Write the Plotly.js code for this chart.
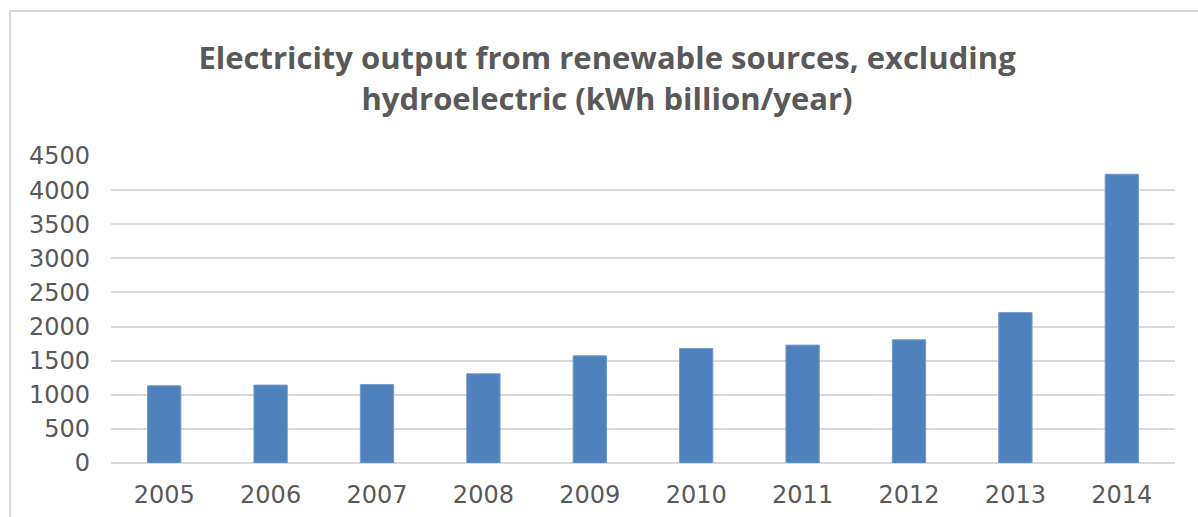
<!DOCTYPE html>
<html>
<head>
<meta charset="utf-8">
<script src="https://cdn.plot.ly/plotly-3.0.1.min.js"></script>
<style>
  html, body { margin: 0; padding: 0; background: #ffffff; overflow: hidden; }
  #chart { position: absolute; left: 0; top: 0; width: 1198px; height: 517px; }
  #frame {
    position: absolute; left: 9px; top: 10px; width: 1300px; height: 600px;
    border-left: 2px solid #d9d9d9; border-top: 2px solid #d9d9d9;
    pointer-events: none;
  }
</style>
</head>
<body>
<div id="chart"></div>
<div id="frame"></div>
<script>
// Annual electricity output from renewables other than hydro, kWh billion
const years = ['2005', '2006', '2007', '2008', '2009', '2010', '2011', '2012', '2013', '2014'];
const output = [1132, 1142, 1151, 1308, 1571, 1678, 1728, 1806, 2205, 4232];
const yTicks = [0, 500, 1000, 1500, 2000, 2500, 3000, 3500, 4000, 4500];

const textColor = '#595959';
const gridColor = '#d9d9d9';

const trace = {
  type: 'bar',
  x: years,
  y: output,
  marker: { color: '#4f81bd', line: { color: '#7399cc', width: 1 } },
  hoverinfo: 'x+y'
};

const layout = {
  width: 1198,
  height: 517,
  margin: { l: 111, r: 23, t: 156, b: 54, pad: 0 },
  paper_bgcolor: '#ffffff',
  plot_bgcolor: '#ffffff',
  showlegend: false,
  bargap: 0.687,
  title: {
    text: 'Electricity output from renewable sources, excluding<br>hydroelectric (kWh billion/year)',
    font: { family: 'Open Sans, sans-serif', size: 31, color: textColor, weight: 'bold' },
    xref: 'container',
    x: 0.5067,
    xanchor: 'center',
    yref: 'container',
    y: 0.866,
    yanchor: 'top'
  },
  xaxis: {
    type: 'category',
    showgrid: false,
    showline: false,
    zeroline: false,
    ticks: '',
    ticklabelstandoff: 15,
    tickfont: { family: 'DejaVu Sans, Verdana, sans-serif', size: 24, color: textColor }
  },
  yaxis: {
    range: [0, 4500],
    tickvals: yTicks,
    ticktext: yTicks.map(String),
    showgrid: true,
    gridcolor: gridColor,
    gridwidth: 2,
    zeroline: true,
    zerolinecolor: gridColor,
    zerolinewidth: 2,
    showline: false,
    ticks: '',
    ticklabelstandoff: 20,
    tickfont: { family: 'DejaVu Sans, Verdana, sans-serif', size: 24, color: textColor }
  }
};

Plotly.newPlot('chart', [trace], layout, { displayModeBar: false, staticPlot: true });
</script>
</body>
</html>
